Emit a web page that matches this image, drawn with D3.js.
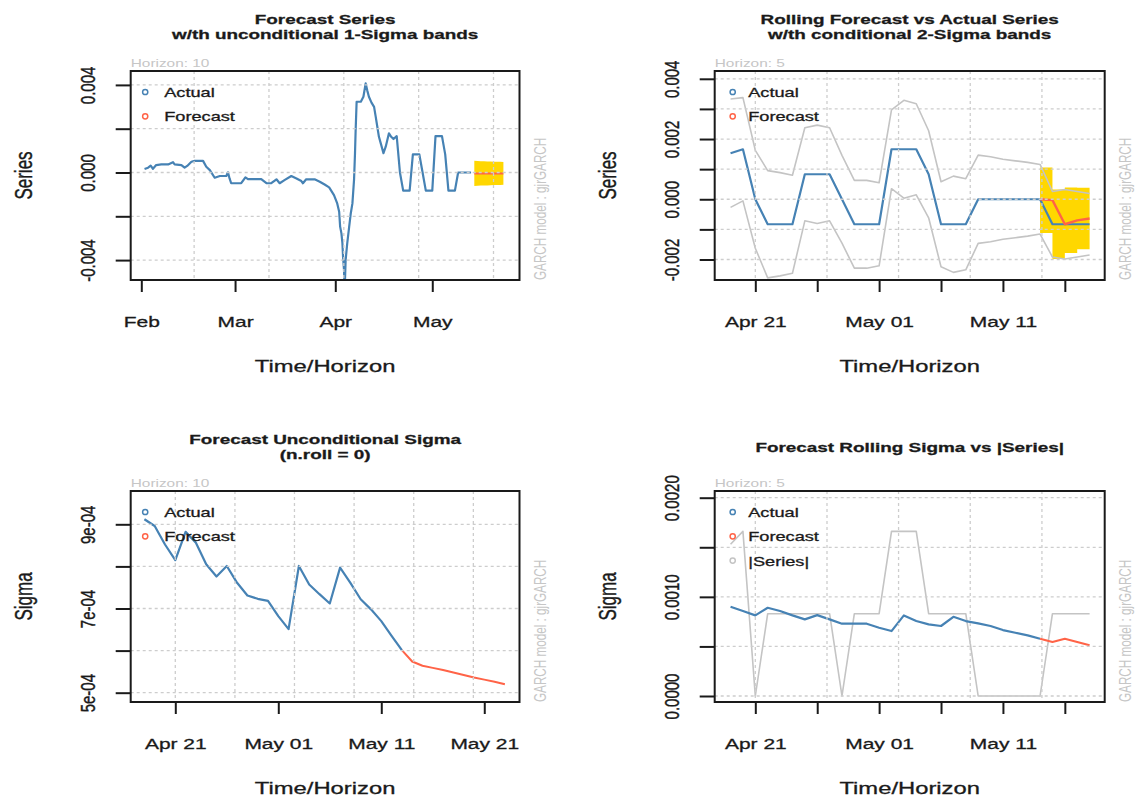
<!DOCTYPE html>
<html><head><meta charset="utf-8">
<script src="https://cdn.jsdelivr.net/npm/d3@7"></script>
<style>body{margin:0;background:#fff}svg{display:block}text{font-family:"Liberation Sans",Arial,sans-serif}</style>
</head><body>
<script>
// ================= DATA =================
// Series (units 1e-3) before Apr 19, read as vertices: days since 2020-02-01
const earlyDays = [1.0,2.1,2.9,3.6,4.6,6.2,8.3,9.8,10.3,12.4,13.4,14.2,15.5,16.5,19.1,20.1,21.2,22.7,24.3,26.3,
  26.8,27.3,27.8,30.9,32.2,33.0,37.1,38.7,40.2,41.8,42.8,44.4,46.4,48.0,49.5,50.0,51.0,53.6,55.2,56.7,
  58.1,59.6,60.6,61.2,61.5,61.9,62.2,62.4,62.7,62.9,63.2,63.7,64.3,64.8,65.3,65.8,66.1,66.3,66.6,67.9,
  68.7,69.4,69.9,70.4,71.2,72.0,72.5,73.0,73.5,74.2,74.9,75.6,76.1,76.6,77.3];
const earlyVals = [0.16,0.22,0.31,0.17,0.34,0.37,0.37,0.47,0.37,0.34,0.22,0.30,0.49,0.53,0.53,0.26,0.11,-0.24,-0.16,-0.16,
  0.01,-0.27,-0.49,-0.49,-0.22,-0.30,-0.30,-0.49,-0.49,-0.31,-0.49,-0.34,-0.16,-0.27,-0.39,-0.49,-0.31,-0.31,-0.42,-0.55,
  -0.68,-1.03,-1.41,-1.79,-2.47,-2.78,-3.23,-3.84,-4.45,-5.4,-4.0,-3.23,-2.47,-1.86,-1.41,-0.34,0.88,1.94,3.23,3.23,
  3.46,4.07,3.74,3.46,3.19,3.0,2.55,2.09,1.63,1.26,0.88,1.18,1.48,1.79,1.63];
// Daily series Apr 19 .. May 18 (units 1e-3)
const rollDates = ["2020-04-19","2020-04-20","2020-04-21","2020-04-22","2020-04-23","2020-04-24","2020-04-25","2020-04-26",
  "2020-04-27","2020-04-28","2020-04-29","2020-04-30","2020-05-01","2020-05-02","2020-05-03","2020-05-04","2020-05-05",
  "2020-05-06","2020-05-07","2020-05-08","2020-05-09","2020-05-10","2020-05-11","2020-05-12","2020-05-13","2020-05-14",
  "2020-05-15","2020-05-16","2020-05-17","2020-05-18"];
const rollSeries = [1.53,1.66,0,-0.83,-0.83,-0.83,0.83,0.83,0.83,0,-0.83,-0.83,-0.83,1.66,1.66,1.66,0.83,-0.83,-0.83,-0.83,
  0,0,0,0,0,0,-0.83,-0.83,-0.83,-0.83];
// Rolling conditional sigma Apr 19 .. May 13 (units 1e-4)
const rollSigma = [9.0,8.57,8.13,8.9,8.57,8.13,7.73,8.16,7.73,7.29,7.29,7.29,6.89,6.55,8.13,7.56,7.23,7.06,7.99,7.56,
  7.33,7.06,6.65,6.38,6.12];
// Rolling forecasts May 14 .. May 18
const rollFcstDates = ["2020-05-14","2020-05-15","2020-05-16","2020-05-17","2020-05-18"];
const rollFcstMean = [0.0,-0.03,-0.83,-0.70,-0.64];      // 1e-3
const rollFcstSigma = [5.78,5.44,5.78,5.44,5.11];        // 1e-4
// Unconditional: fitted sigma Apr 18 .. May 13 (1e-4)
const sigmaDates = ["2020-04-18","2020-04-19","2020-04-20","2020-04-21","2020-04-22","2020-04-23","2020-04-24","2020-04-25",
  "2020-04-26","2020-04-27","2020-04-28","2020-04-29","2020-04-30","2020-05-01","2020-05-02","2020-05-03","2020-05-04",
  "2020-05-05","2020-05-06","2020-05-07","2020-05-08","2020-05-09","2020-05-10","2020-05-11","2020-05-12","2020-05-13"];
const sigmaActual = [9.12,8.96,8.52,8.15,8.82,8.56,8.05,7.76,8.01,7.61,7.31,7.23,7.18,6.82,6.51,8.01,7.57,7.34,7.12,7.97,
  7.61,7.22,6.98,6.70,6.35,6.01];
// Unconditional forecast, horizon 10
const fcstDates = ["2020-05-14","2020-05-15","2020-05-16","2020-05-17","2020-05-18","2020-05-19","2020-05-20","2020-05-21",
  "2020-05-22","2020-05-23"];
const fcstSigma = [5.74,5.64,5.59,5.54,5.48,5.42,5.36,5.31,5.26,5.20];   // 1e-4
const fcstMean = [-0.04,-0.04,-0.04,-0.04,-0.04,-0.04,-0.04,-0.04,-0.04,-0.04]; // 1e-3

// Axis ticks
const p1XTicks = ["2020-02-01","2020-03-01","2020-04-01","2020-05-01"], p1XLabels = ["Feb","Mar","Apr","May"];
const rXTicks = ["2020-04-21","2020-04-26","2020-05-01","2020-05-06","2020-05-11","2020-05-16"];
const rXLabels = ["Apr 21","","May 01","","May 11",""];
const p3XTicks = ["2020-04-21","2020-05-01","2020-05-11","2020-05-21"], p3XLabels = ["Apr 21","May 01","May 11","May 21"];
const p1YTicks = [-0.004,-0.002,0,0.002,0.004], p1YLabels = ["-0.004","","0.000","","0.004"];
const p2YTicks = [-0.002,-0.001,0,0.001,0.002,0.003,0.004], p2YLabels = ["-0.002","","0.000","","0.002","","0.004"];
const p3YTicks = [5e-4,6e-4,7e-4,8e-4,9e-4], p3YLabels = ["5e-04","","7e-04","","9e-04"];
const p4YTicks = [0,0.0005,0.001,0.0015,0.002], p4YLabels = ["0.0000","","0.0010","","0.0020"];
// grid line positions (days since 2020-02-01)
const p1GridDays = [16.34,39.49,62.64,85.79,108.94];
const rGridDays = [80,85.79,91.57,97.36,103.15,108.94];

// ================= HELPERS =================
const W = 1135, H = 796, SX = 1.4;
const BASE = Date.UTC(2020,1,1);
const dayD = d => new Date(BASE + d*864e5);
const pd = d3.utcParse("%Y-%m-%d");
const BLUE = "steelblue", RED = "#ff6347", GOLD = "#ffd700", GREY = "#c4c4c4", GRIDC = "#cdcdcd", INK = "#1a1a1a", FAINT = "#c6c6c6";
const FONT = '"Liberation Sans",Arial,sans-serif';

const svg = d3.select("body").append("svg").attr("width", W).attr("height", H);

function stext(parent, x, y, str, o = {}) {
  const g = parent.append("g").attr("transform", `translate(${x},${y}) scale(${SX},1)`);
  const fill = o.fill || INK;
  const t = g.append("text").attr("text-anchor", o.anchor || "middle")
    .attr("font-size", o.size || 15).attr("font-weight", o.weight || "normal")
    .attr("fill", fill).text(str);
  if (fill === INK) t.attr("stroke", INK).attr("stroke-width", 0.3);
  if (o.rot) t.attr("transform", "rotate(-90)");
  return t;
}

let clipId = 0;
function panel(c) {
  const [x0, x1, y0, y1] = c.box;
  const x = d3.scaleUtc().domain(c.xd).range([x0, x1]);
  const y = d3.scaleLinear().domain(c.yd).range([y1, y0]);
  const g = svg.append("g");
  const id = "clip" + (clipId++);
  g.append("clipPath").attr("id", id).append("rect").attr("x", x0).attr("y", y0).attr("width", x1 - x0).attr("height", y1 - y0);
  const plot = g.append("g").attr("clip-path", `url(#${id})`);
  c.draw(plot, x, y);
  // grid on top
  const grid = plot.append("g").attr("stroke", GRIDC).attr("stroke-width", 1.3).attr("stroke-dasharray", "3,3");
  c.gridX.forEach(d => grid.append("line").attr("x1", x(d)).attr("x2", x(d)).attr("y1", y0).attr("y2", y1));
  c.yTicks.forEach(v => grid.append("line").attr("x1", x0).attr("x2", x1).attr("y1", y(v)).attr("y2", y(v)));
  // box
  g.append("rect").attr("x", x0).attr("y", y0).attr("width", x1 - x0).attr("height", y1 - y0)
    .attr("fill", "none").attr("stroke", INK).attr("stroke-width", 2);
  // x axis
  const xa = g.append("g").attr("transform", `translate(0,${y1})`)
    .call(d3.axisBottom(x).tickValues(c.xTicks.map(pd)).tickSize(12).tickFormat((d, i) => c.xLabels[i]));
  xa.select(".domain").remove();
  xa.selectAll("line").attr("stroke", INK).attr("stroke-width", 2);
  xa.selectAll("text").attr("y", 47).attr("dy", null).attr("font-size", 15).attr("fill", INK)
    .attr("stroke", INK).attr("stroke-width", 0.3)
    .attr("font-family", FONT).attr("transform", `scale(${SX},1)`);
  // y axis
  const ya = g.append("g").attr("transform", `translate(${x0},0)`)
    .call(d3.axisLeft(y).tickValues(c.yTicks).tickSize(15).tickFormat((d, i) => c.yLabels[i]));
  ya.select(".domain").remove();
  ya.selectAll("line").attr("stroke", INK).attr("stroke-width", 2);
  ya.selectAll("text").attr("x", 0).attr("dy", null).attr("text-anchor", "middle").attr("font-size", 15).attr("fill", INK)
    .attr("stroke", INK).attr("stroke-width", 0.3)
    .attr("font-family", FONT)
    .attr("transform", `translate(-36,0) scale(${SX},1) rotate(-90)`);
  // titles
  const cx = (x0 + x1) / 2, cy = (y0 + y1) / 2;
  if (c.title.length === 2) {
    stext(g, cx, y0 - 47, c.title[0], {size: 13.5, weight: "bold"});
    stext(g, cx, y0 - 32.5, c.title[1], {size: 13.5, weight: "bold"});
  } else {
    stext(g, cx, y0 - 39.5, c.title[0], {size: 13.5, weight: "bold"});
  }
  stext(g, cx, y1 + 92, "Time/Horizon", {size: 17});
  stext(g, x0 - 99, cy, c.ylab, {size: 17, rot: true});
  stext(g, x0, y0 - 4, c.horizon, {size: 11, anchor: "start", fill: FAINT});
  const gm = g.append("g").attr("transform", `translate(${x1 + 26},${y1}) scale(${SX},1)`);
  gm.append("text").attr("transform", "rotate(-90)").attr("font-size", 11.7).attr("fill", FAINT).text("GARCH model : gjrGARCH");
  // legend
  c.legend.forEach((L, i) => {
    const ly = y0 + 21 + i * 24.3;
    g.append("circle").attr("cx", x0 + c.legMark).attr("cy", ly).attr("r", 2.6)
      .attr("fill", "none").attr("stroke", L[1]).attr("stroke-width", 1.5);
    stext(g, x0 + 33.5, ly + 5, L[0], {size: 13, anchor: "start"});
  });
}

const line = (x, y) => d3.line().x(d => x(d.t)).y(d => y(d.v));
function path(p, data, gen, color, w) {
  p.append("path").datum(data).attr("d", gen).attr("fill", "none").attr("stroke", color)
    .attr("stroke-width", w).attr("stroke-linejoin", "round");
}

// derived records
const seriesRecs = rollDates.map((d, i) => ({t: pd(d), v: rollSeries[i] * 1e-3}));
const p1Series = earlyDays.map((d, i) => ({t: dayD(d), v: earlyVals[i] * 1e-3}))
  .concat(seriesRecs.filter(r => r.t <= pd("2020-05-13")));
const fcstRecs = fcstDates.map((d, i) => ({t: pd(d), m: fcstMean[i] * 1e-3, s: fcstSigma[i] * 1e-4}));
const rollFcstRecs = rollFcstDates.map((d, i) => ({t: pd(d), m: rollFcstMean[i] * 1e-3, s: rollFcstSigma[i] * 1e-4}));
const sigmaAll = rollSigma.concat(rollFcstSigma).map(v => v * 1e-4);

// ---------- Panel 1 ----------
panel({
  box: [130.7, 519.5, 71, 280], xd: [dayD(-3.28), dayD(116.98)], yd: [-0.004909, 0.004635],
  xTicks: p1XTicks, xLabels: p1XLabels, yTicks: p1YTicks, yLabels: p1YLabels,
  gridX: p1GridDays.map(dayD), title: ["Forecast Series", "w/th unconditional 1-Sigma bands"],
  ylab: "Series", horizon: "Horizon: 10", legMark: 14.5,
  legend: [["Actual", BLUE], ["Forecast", RED]],
  draw(p, x, y) {
    p.append("path").datum(fcstRecs).attr("fill", GOLD)
      .attr("d", d3.area().x(d => x(d.t)).y0(d => y(d.m - d.s)).y1(d => y(d.m + d.s)));
    path(p, p1Series, line(x, y), BLUE, 2.2);
    path(p, fcstRecs.map(d => ({t: d.t, v: d.m})), line(x, y), RED, 2);
  }
});

// ---------- Panel 2 ----------
panel({
  box: [714.7, 1104.7, 71, 280], xd: [dayD(76.72), dayD(108.22)], yd: [-0.002681, 0.004259],
  xTicks: rXTicks, xLabels: rXLabels, yTicks: p2YTicks, yLabels: p2YLabels,
  gridX: rGridDays.map(dayD), title: ["Rolling Forecast vs Actual Series", "w/th conditional 2-Sigma bands"],
  ylab: "Series", horizon: "Horizon: 5", legMark: 18,
  legend: [["Actual", BLUE], ["Forecast", RED]],
  draw(p, x, y) {
    p.append("path").datum(rollFcstRecs).attr("fill", GOLD)
      .attr("d", d3.area().curve(d3.curveStepBefore).x(d => x(d.t)).y0(d => y(d.m - 2 * d.s)).y1(d => y(d.m + 2 * d.s)));
    path(p, seriesRecs.map((r, i) => ({t: r.t, v: r.v + 2 * sigmaAll[i]})), line(x, y), GREY, 1.6);
    path(p, seriesRecs.map((r, i) => ({t: r.t, v: r.v - 2 * sigmaAll[i]})), line(x, y), GREY, 1.6);
    path(p, seriesRecs, line(x, y), BLUE, 2.2);
    path(p, rollFcstRecs.map(d => ({t: d.t, v: d.m})), line(x, y), RED, 2.4);
  }
});

// ---------- Panel 3 ----------
panel({
  box: [130.7, 519.5, 491, 702], xd: [dayD(75.67), dayD(113.42)], yd: [4.779e-4, 9.791e-4],
  xTicks: p3XTicks, xLabels: p3XLabels, yTicks: p3YTicks, yLabels: p3YLabels,
  gridX: rGridDays.map(dayD), title: ["Forecast Unconditional Sigma", "(n.roll = 0)"],
  ylab: "Sigma", horizon: "Horizon: 10", legMark: 14.5,
  legend: [["Actual", BLUE], ["Forecast", RED]],
  draw(p, x, y) {
    const act = sigmaDates.map((d, i) => ({t: pd(d), v: sigmaActual[i] * 1e-4}));
    path(p, act, line(x, y), BLUE, 2.2);
    path(p, [act[act.length - 1]].concat(fcstRecs.map(d => ({t: d.t, v: d.s}))), line(x, y), RED, 2);
  }
});

// ---------- Panel 4 ----------
panel({
  box: [714.7, 1104.7, 491, 702], xd: [dayD(76.72), dayD(108.22)], yd: [-0.0605e-3, 2.0676e-3],
  xTicks: rXTicks, xLabels: rXLabels, yTicks: p4YTicks, yLabels: p4YLabels,
  gridX: rGridDays.map(dayD), title: ["Forecast Rolling Sigma vs |Series|"],
  ylab: "Sigma", horizon: "Horizon: 5", legMark: 18,
  legend: [["Actual", BLUE], ["Forecast", RED], ["|Series|", GREY]],
  draw(p, x, y) {
    path(p, seriesRecs.map(r => ({t: r.t, v: Math.abs(r.v)})), line(x, y), GREY, 1.6);
    const fs = rollFcstRecs.map(d => ({t: d.t, v: d.s}));
    const act = rollSigma.map((v, i) => ({t: pd(rollDates[i]), v: v * 1e-4})).concat([fs[0]]);
    path(p, act, line(x, y), BLUE, 2.2);
    path(p, fs, line(x, y), RED, 2);
  }
});
</script>
</body></html>
